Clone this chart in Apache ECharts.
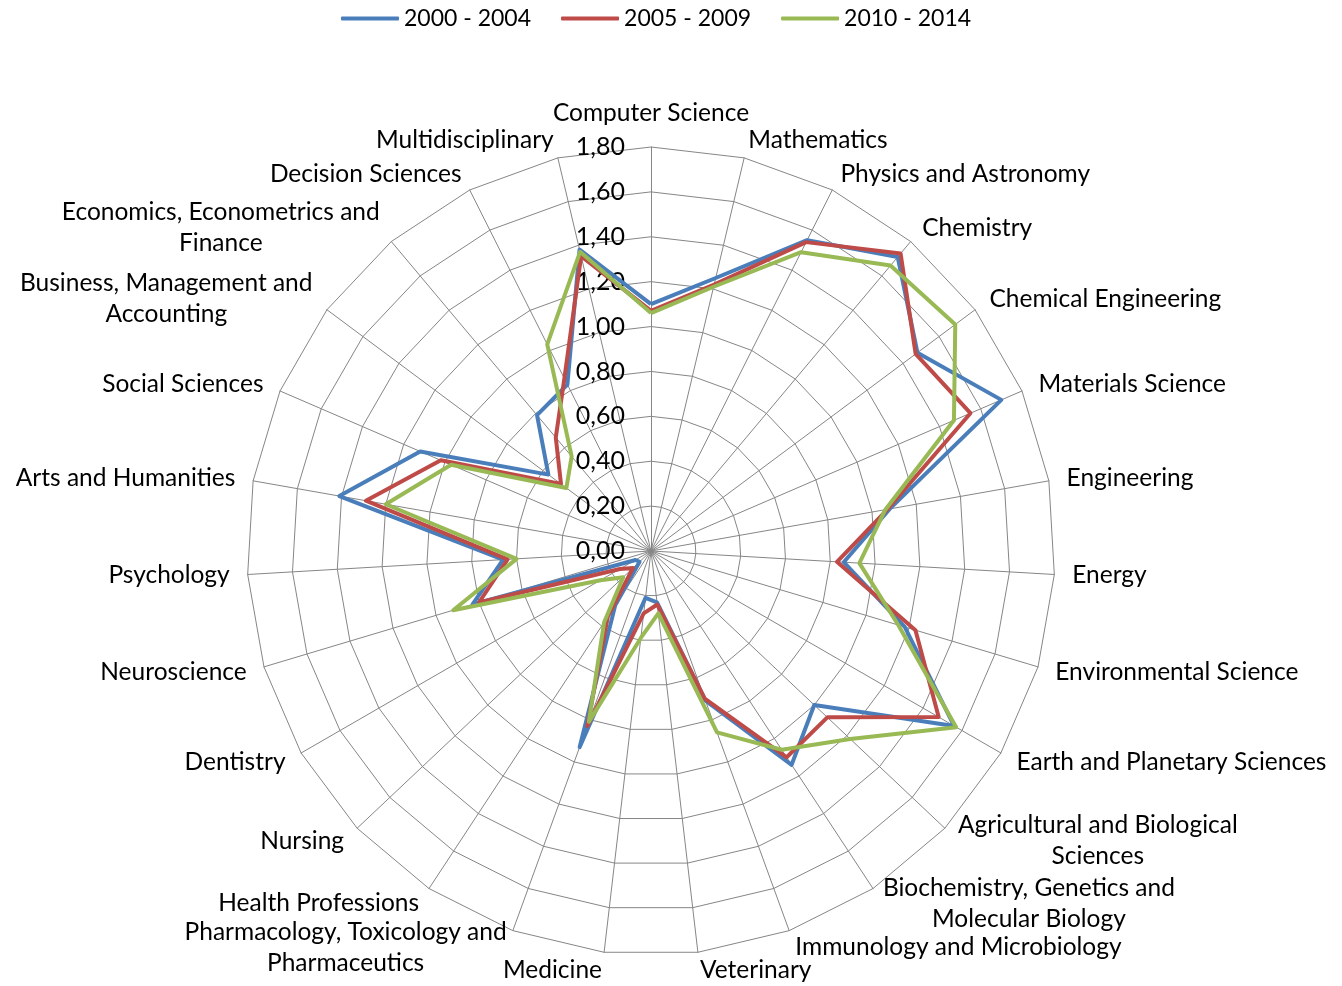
<!DOCTYPE html>
<html><head><meta charset="utf-8">
<script src="https://cdn.jsdelivr.net/npm/echarts@6/dist/echarts.min.js"></script>
<style>html,body{margin:0;padding:0;background:#fff}#c{width:1342px;height:986px}</style>
</head><body><div id="c"></div>
<script>
// Categories in clockwise order starting at the top
const categories = ['Computer Science','Mathematics','Physics and Astronomy','Chemistry','Chemical Engineering','Materials Science','Engineering','Energy','Environmental Science','Earth and Planetary Sciences','Agricultural and Biological\nSciences','Biochemistry, Genetics and\nMolecular Biology','Immunology and Microbiology','Veterinary','Medicine','Pharmacology, Toxicology and\nPharmaceutics','Health Professions','Nursing','Dentistry','Neuroscience','Psychology','Arts and Humanities','Social Sciences','Business, Management and\nAccounting','Economics, Econometrics and\nFinance','Decision Sciences','Multidisciplinary'];
const seriesNames = ['2000 - 2004','2005 - 2009','2010 - 2014'];
const s2000 = [1.10,1.25,1.55,1.71,1.48,1.70,1.08,0.86,1.18,1.56,1.00,1.14,0.71,0.23,0.21,0.93,0.29,0.07,0.08,0.83,0.66,1.41,1.12,0.57,0.79,0.83,1.38];
const s2005 = [1.07,1.22,1.54,1.73,1.47,1.55,1.07,0.83,1.23,1.48,1.08,1.10,0.70,0.24,0.28,0.83,0.35,0.11,0.16,0.80,0.64,1.29,1.02,0.50,0.66,0.86,1.35];
const s2010 = [1.06,1.21,1.49,1.66,1.69,1.47,1.06,0.93,1.15,1.57,1.22,1.06,0.86,0.28,0.39,0.81,0.38,0.17,0.26,0.92,0.60,1.20,0.97,0.47,0.55,1.03,1.37];
const axisMin = 0, axisMax = 1.8, axisSplits = 9;

const FONT = 'Lato';
const FS = 24.5;
const colors = ['#4A7EBB','#BE4B48','#98B954'];

// ECharts radar goes counter-clockwise; reorder so the picture runs clockwise
const order = [0].concat(categories.map((_, i) => i).slice(1).reverse());
const indicator = order.map((idx, k) => {
  const ind = { name: categories[idx], min: axisMin, max: axisMax };
  if (k === 0) ind.axisLabel = { show: true };
  return ind;
});
const allSeries = [s2000, s2005, s2010];

const chart = echarts.init(document.getElementById('c'), null, { renderer: 'canvas' });
chart.setOption({
  backgroundColor: '#ffffff',
  animation: false,
  color: colors,
  textStyle: { fontFamily: FONT },
  legend: {
    top: 2, left: 336,
    itemWidth: 58, itemHeight: 4, itemGap: 30,
    icon: 'roundRect',
    data: seriesNames,
    textStyle: { fontFamily: FONT, fontSize: 23, color: '#000' }
  },
  radar: {
    center: [651, 551],
    radius: 404,
    startAngle: 90,
    shape: 'polygon',
    splitNumber: axisSplits,
    indicator: indicator,
    axisName: {
      color: '#000', fontFamily: FONT, fontSize: FS,
      formatter: function (name) {
        return name.split('\n').map(l => '{c|' + l + '}').join('\n');
      },
      rich: { c: { align: 'center', color: '#000', fontFamily: FONT, fontSize: FS, lineHeight: 31 } }
    },
    nameGap: 18,
    axisLine: { lineStyle: { color: '#868686', width: 1 } },
    splitLine: { lineStyle: { color: '#868686', width: 1 } },
    splitArea: { show: false },
    axisTick: { show: false },
    axisLabel: {
      show: false, color: '#000', fontFamily: FONT, fontSize: 25, margin: 26,
      formatter: v => v.toFixed(2).replace('.', ',')
    }
  },
  series: allSeries.map((vals, si) => ({
    type: 'radar',
    name: seriesNames[si],
    symbol: 'none',
    lineStyle: { width: 4, color: colors[si] },
    itemStyle: { color: colors[si] },
    data: [{ name: seriesNames[si], value: order.map(i => vals[i]) }]
  }))
});
</script></body></html>
